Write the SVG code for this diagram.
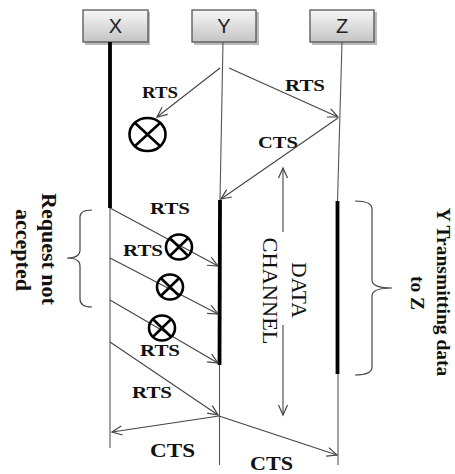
<svg xmlns="http://www.w3.org/2000/svg" width="455" height="474" viewBox="0 0 455 474">
<defs>
<linearGradient id="boxg" x1="0" y1="0" x2="0" y2="1">
<stop offset="0" stop-color="#f7f7f7"/>
<stop offset="1" stop-color="#c4c4c4"/>
</linearGradient>
<marker id="ah" markerUnits="userSpaceOnUse" markerWidth="14" markerHeight="12" viewBox="-11 -6 12 12" refX="0" refY="0" orient="auto">
<path d="M-10,-4.5 L0,0 L-10,4.5" fill="none" stroke="#444" stroke-width="1.2"/>
</marker>
</defs>
<style>
.box{fill:url(#boxg);stroke:#555;stroke-width:1.3}
.shadow{fill:#bbb}
.lbl{font-family:"Liberation Sans",Arial,sans-serif;font-size:20px;fill:#222;text-anchor:middle}
.thin{stroke:#555;stroke-width:1.1;fill:none}
.thick{stroke:#000;stroke-width:3.8;fill:none}
.msg{stroke:#444;stroke-width:1.1;fill:none;marker-end:url(#ah)}
.t{font-family:"Liberation Serif","Times New Roman",serif;font-weight:bold;font-size:17px;fill:#111;text-anchor:middle}
.big{font-size:19px}
.rot{font-family:"Liberation Serif","Times New Roman",serif;font-weight:bold;font-size:22px;fill:#111;text-anchor:middle}
.dc{font-family:"Liberation Serif","Times New Roman",serif;font-size:22px;fill:#111;text-anchor:middle}
.brace{stroke:#444;stroke-width:1.2;fill:none}
.cx{fill:none;stroke:#000;stroke-width:2.6}
</style>
<g id="X">
<rect class="shadow" x="85" y="12" width="65" height="33"/>
<rect class="box" x="83" y="10" width="65" height="32"/>
<text class="lbl" x="115.5" y="33">X</text>
<line class="thick" x1="110" y1="42" x2="110" y2="208"/>
<line class="thin" x1="110" y1="208" x2="110" y2="448"/>
</g>
<g id="Y">
<rect class="shadow" x="194" y="12" width="65" height="33"/>
<rect class="box" x="192" y="10" width="64" height="32"/>
<text class="lbl" x="224" y="33">Y</text>
<line class="thin" x1="223" y1="42" x2="220" y2="200"/>
<line class="thick" x1="220" y1="200" x2="219.5" y2="365"/>
<line class="thin" x1="219.5" y1="365" x2="219.5" y2="465"/>
</g>
<g id="Z">
<rect class="shadow" x="312" y="12" width="65" height="33"/>
<rect class="box" x="310" y="10" width="64" height="32"/>
<text class="lbl" x="342" y="33">Z</text>
<line class="thin" x1="342" y1="42" x2="337.5" y2="201"/>
<line class="thick" x1="337.5" y1="201" x2="337.5" y2="374"/>
<line class="thin" x1="338" y1="374" x2="338" y2="465"/>
</g>
<g id="connectors">
<line class="msg" x1="220" y1="68" x2="157" y2="117"/>
<line class="msg" x1="229" y1="68" x2="338" y2="117"/>
<line class="msg" x1="338" y1="118" x2="221" y2="199"/>
<line class="msg" x1="110" y1="208" x2="218" y2="266"/>
<line class="msg" x1="110" y1="258" x2="218" y2="314"/>
<line class="msg" x1="110" y1="300" x2="218" y2="363"/>
<line class="msg" x1="110" y1="342" x2="218" y2="415"/>
<line class="msg" x1="219" y1="416" x2="112" y2="432"/>
<line class="msg" x1="219" y1="416" x2="337" y2="455"/>
<line class="msg" x1="283" y1="232" x2="283" y2="168"/>
<line class="msg" x1="283" y1="325" x2="283" y2="415"/>
</g>
<g id="collisions">
<g transform="translate(147.5,134.5)">
<ellipse class="cx" rx="18" ry="16.5" stroke-width="3.4"/>
<path class="cx" d="M-12.5,-11.5 L12.5,11.5 M12.5,-11.5 L-12.5,11.5" stroke-width="3"/>
</g>
<g transform="translate(179,247)">
<ellipse class="cx" rx="13" ry="12.5"/>
<path class="cx" d="M-9,-8.8 L9,8.8 M9,-8.8 L-9,8.8"/>
</g>
<g transform="translate(170,287)">
<ellipse class="cx" rx="13" ry="12.5"/>
<path class="cx" d="M-9,-8.8 L9,8.8 M9,-8.8 L-9,8.8"/>
</g>
<g transform="translate(162,328)">
<ellipse class="cx" rx="13" ry="12.5"/>
<path class="cx" d="M-9,-8.8 L9,8.8 M9,-8.8 L-9,8.8"/>
</g>
</g>
<g id="labels">
<text class="t" x="160" y="98" textLength="36" lengthAdjust="spacingAndGlyphs">RTS</text>
<text class="t" x="305" y="91" textLength="40" lengthAdjust="spacingAndGlyphs">RTS</text>
<text class="t" x="278" y="148" textLength="40" lengthAdjust="spacingAndGlyphs">CTS</text>
<text class="t" x="170" y="214" textLength="40" lengthAdjust="spacingAndGlyphs">RTS</text>
<text class="t" x="143" y="256" textLength="40" lengthAdjust="spacingAndGlyphs">RTS</text>
<text class="t" x="160" y="356" textLength="40" lengthAdjust="spacingAndGlyphs">RTS</text>
<text class="t" x="152" y="398" textLength="40" lengthAdjust="spacingAndGlyphs">RTS</text>
<text class="t big" x="172.5" y="457" textLength="45" lengthAdjust="spacingAndGlyphs">CTS</text>
<text class="t big" x="271.5" y="470" textLength="43" lengthAdjust="spacingAndGlyphs">CTS</text>
</g>
<g id="data-channel">
<text class="dc" transform="translate(292,290) rotate(90)" textLength="56" lengthAdjust="spacingAndGlyphs">DATA</text>
<text class="dc" transform="translate(263,291) rotate(90)" textLength="107" lengthAdjust="spacingAndGlyphs">CHANNEL</text>
</g>
<g id="request-not-accepted">
<path class="brace" d="M92,210 Q80,210 80,217 V250 Q80,258 67,258 Q80,258 80,266 V299 Q80,307 92,307"/>
<text class="rot" transform="translate(42,249) rotate(90)">Request not</text>
<text class="rot" transform="translate(16,250) rotate(90)">accepted</text>
</g>
<g id="y-transmitting">
<path class="brace" d="M355,201 Q372,201 372,209 V280 Q372,288 392,288 Q372,288 372,296 V367 Q372,375 355,375"/>
<text class="rot" style="font-size:19.5px" transform="translate(437,292) rotate(90)">Y Transmitting data</text>
<text class="rot" style="font-size:19.5px" transform="translate(411,293) rotate(90)">to Z</text>
</g>
</svg>
